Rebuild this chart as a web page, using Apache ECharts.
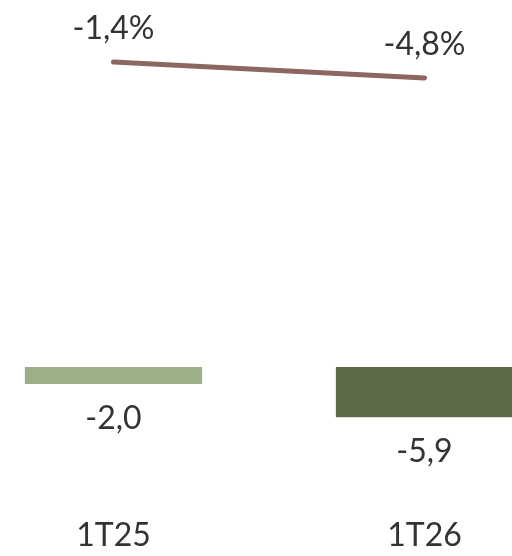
<!DOCTYPE html>
<html><head><meta charset="utf-8">
<script src="https://cdn.jsdelivr.net/npm/echarts@6/dist/echarts.min.js"></script>
<style>html,body{margin:0;padding:0;background:#fff}#c{width:512px;height:556px}</style>
</head><body><div id="c"></div>
<script>
const categories = ['1T25', '1T26'];
const barValues = [-2.0, -5.9];
const barColors = ['#9caf88', '#5b6b47'];
const lineValues = [-1.4, -4.8];

const fmt = v => v.toFixed(1).replace('.', ',');
const chart = echarts.init(document.getElementById('c'));
chart.setOption({
  animation: false,
  textStyle: { fontFamily: 'Lato' },
  grid: { left: -42, width: 622, top: 0, height: 510, containLabel: false, outerBoundsMode: 'none' },
  xAxis: {
    type: 'category', data: categories,
    axisLine: { show: false }, axisTick: { show: false },
    axisLabel: { color: '#333', fontSize: 32, fontFamily: 'Lato', margin: 10 }
  },
  yAxis: [
    { type: 'value', min: -16.82, max: 43.18, show: false },
    { type: 'value', min: -96.6, max: 11.77, show: false }
  ],
  series: [
    {
      type: 'bar', yAxisIndex: 0, barWidth: '57%',
      data: barValues.map((v, i) => ({ value: v, itemStyle: { color: barColors[i] } })),
      label: { show: true, position: 'bottom', distance: 19, color: '#333', fontSize: 32, fontFamily: 'Lato',
        formatter: p => fmt(p.value) }
    },
    {
      type: 'line', yAxisIndex: 1, data: lineValues,
      symbol: 'circle', symbolSize: 0, itemStyle: { color: 'transparent', borderWidth: 0 },
      lineStyle: { color: '#8c6762', width: 5, cap: 'round' },
      label: { show: true, position: 'top', distance: 17, color: '#333', fontSize: 32, fontFamily: 'Lato',
        formatter: p => fmt(p.value) + '%' }
    }
  ]
});
</script></body></html>
